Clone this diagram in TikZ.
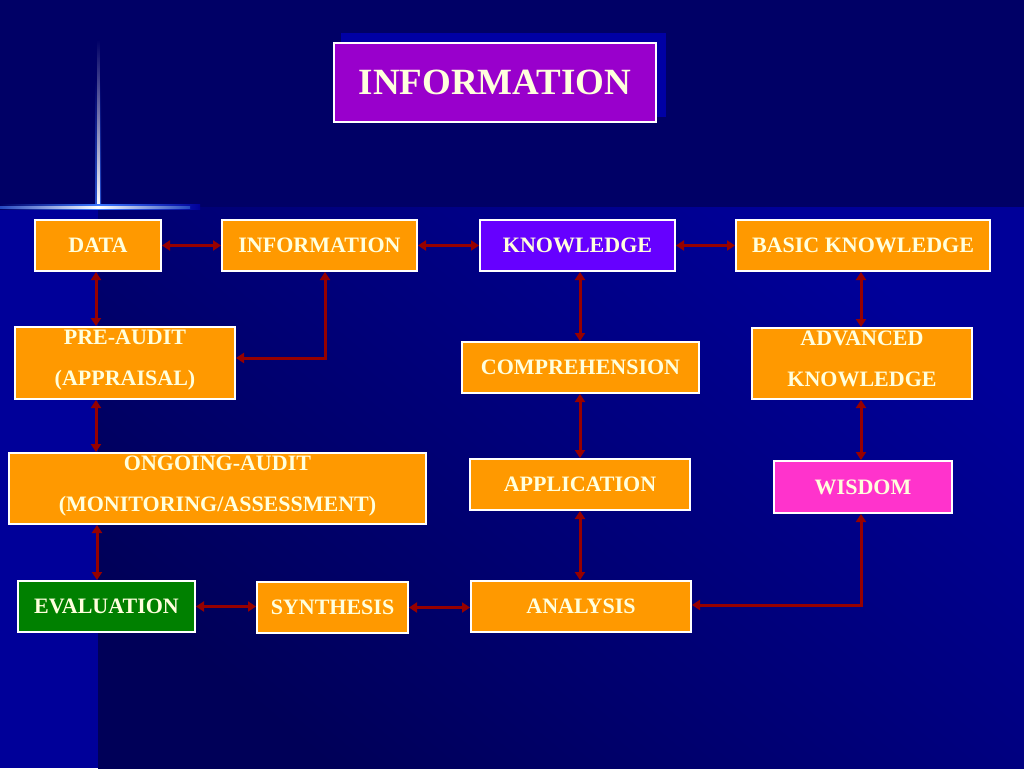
\documentclass[tikz,border=0pt]{standalone}
\usepackage{fontspec}
\setmainfont{Liberation Serif}
\usetikzlibrary{arrows.meta,calc}
\definecolor{navy}{RGB}{0,0,102}
\definecolor{brightblue}{RGB}{0,0,153}
\definecolor{darkbg}{RGB}{0,0,88}
\definecolor{glowblue}{RGB}{0,0,165}
\definecolor{orangebox}{RGB}{255,153,0}
\definecolor{violetbox}{RGB}{102,0,255}
\definecolor{purplebox}{RGB}{153,0,204}
\definecolor{magentabox}{RGB}{255,51,204}
\definecolor{greenbox}{RGB}{0,128,0}
\definecolor{arrowred}{RGB}{150,0,0}
\definecolor{cream}{RGB}{255,255,221}
\definecolor{sparkblue}{RGB}{60,120,255}
\tikzset{
  box/.style={draw=white, line width=2pt, fill=orangebox, inner sep=0pt,
    text=cream, font=\fontsize{22}{41}\selectfont\bfseries, align=center},
  lbl/.style={inner sep=0pt, text=cream, font=\fontsize{22}{41}\selectfont\bfseries, align=center},
  arr/.style={draw=arrowred, line width=3pt,
    {Triangle[length=8pt,width=10pt]}-{Triangle[length=8pt,width=10pt]}},
}
\begin{document}
\begin{tikzpicture}[x=1pt,y=-1pt]
\useasboundingbox (0,0) rectangle (1024,768);
% background
\fill[navy] (0,0) rectangle (1024,768);
\fill[brightblue] (0,207) rectangle (1024,768);
\shade[top color=brightblue, bottom color=darkbg, shading angle=-40] (98,207) rectangle (1024,768);
% sparkle
\shade[top color=navy, bottom color=sparkblue!70!navy] (95,80) rectangle (101,207);
\shade[top color=navy, bottom color=white] (97,40) rectangle (99.5,207);
\shade[left color=navy, right color=sparkblue] (0,204.5) rectangle (98,209.5);
\shade[left color=sparkblue, right color=brightblue] (98,204.5) rectangle (200,209.5);
\shade[left color=sparkblue!60!navy, right color=white] (0,206) rectangle (98,208.5);
\shade[left color=white, right color=sparkblue!60!navy] (98,206) rectangle (190,208.5);
% title
\fill[glowblue] (341,33) rectangle (666,117);
\node[box, fill=purplebox, minimum width=322, minimum height=79,
  font=\fontsize{37}{44}\selectfont\bfseries] (title) at (495,82.5) {INFORMATION};
% column coordinates
\coordinate (lc) at (96,0);
\coordinate (mc) at (580,0);
\coordinate (rc) at (861,0);
% row 1
\node[box, minimum width=126, minimum height=51] (data) at (98,245.5) {DATA};
\node[box, minimum width=195, minimum height=51] (info) at (319.5,245.5) {INFORMATION};
\node[box, fill=violetbox, minimum width=195, minimum height=51] (know) at (577.5,245.5) {KNOWLEDGE};
\node[box, minimum width=254, minimum height=51] (basic) at (863,245.5) {BASIC KNOWLEDGE};
% row 2
\node[box, minimum width=220, minimum height=72] (pre) at (125,363) {};
\node[lbl] (preT) at ([yshift=3pt]pre.center) {PRE-AUDIT\\(APPRAISAL)};
\node[box, minimum width=237, minimum height=51] (comp) at (580.5,367.5) {COMPREHENSION};
\node[box, minimum width=220, minimum height=71] (adv) at (862,363.5) {};
\node[lbl] (advT) at ([yshift=5pt]adv.center) {ADVANCED\\KNOWLEDGE};
% row 3
\node[box, minimum width=417, minimum height=71] (ongo) at (217.5,488.5) {};
\node[lbl] (ongoT) at ([yshift=2pt]ongo.center) {ONGOING-AUDIT\\(MONITORING/ASSESSMENT)};
\node[box, minimum width=220, minimum height=51] (app) at (580,484.5) {APPLICATION};
\node[box, fill=magentabox, minimum width=178, minimum height=52] (wis) at (863,487) {WISDOM};
% row 4
\node[box, fill=greenbox, minimum width=177, minimum height=51] (eval) at (106.5,606.5) {EVALUATION};
\node[box, minimum width=151, minimum height=51] (syn) at (332.5,607.5) {SYNTHESIS};
\node[box, minimum width=220, minimum height=51] (ana) at (581,606.5) {ANALYSIS};
% connectors
\draw[arr] (data.east) -- (info.west);
\draw[arr] (info.east) -- (know.west);
\draw[arr] (know.east) -- (basic.west);
\draw[arr] (lc |- data.south) -- (lc |- pre.north);
\coordinate (c1) at (325,358);
\draw[arr] (c1 |- info.south) -- (c1) -- (pre.east |- c1);
\draw[arr] (lc |- pre.south) -- (lc |- ongo.north);
\draw[arr] ([xshift=1pt]lc |- ongo.south) -- ([xshift=1pt]lc |- eval.north);
\draw[arr] (eval.east) -- (eval.east -| syn.west);
\draw[arr] (syn.east) -- (syn.east -| ana.west);
\draw[arr] (mc |- know.south) -- (mc |- comp.north);
\draw[arr] (mc |- comp.south) -- (mc |- app.north);
\draw[arr] (mc |- app.south) -- (mc |- ana.north);
\draw[arr] (rc |- basic.south) -- (rc |- adv.north);
\draw[arr] (rc |- adv.south) -- (rc |- wis.north);
\coordinate (c2) at (861,605);
\draw[arr] (rc |- wis.south) -- (c2) -- (ana.east |- c2);
\end{tikzpicture}
\end{document}
